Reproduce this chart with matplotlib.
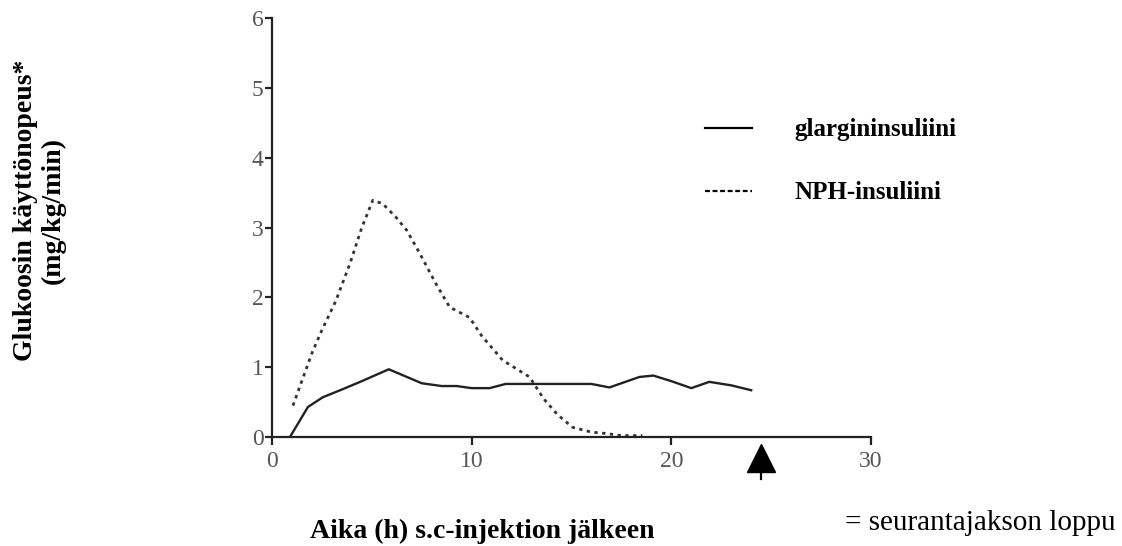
import matplotlib
matplotlib.use("Agg")
import matplotlib.pyplot as plt
from matplotlib.lines import Line2D

# ── Data ────────────────────────────────────────────────────────────────────
glargine_t = [0.9, 1.8, 2.55, 3.5, 4.5, 5.85, 7.5, 8.5, 9.25, 10.0, 10.9, 11.7,
              13.0, 14.5, 16.0, 16.9, 18.4, 19.1, 20.0, 21.0, 21.9, 23.0, 24.0]
glargine_v = [0.0, 0.43, 0.57, 0.68, 0.80, 0.97, 0.77, 0.73, 0.73, 0.70, 0.70, 0.76,
              0.76, 0.76, 0.76, 0.71, 0.86, 0.88, 0.80, 0.70, 0.79, 0.74, 0.67]

nph_t = [1.05, 2.0, 2.5, 3.2, 3.9, 4.5, 5.05, 5.55, 6.2, 6.75, 7.4, 8.2, 8.9,
         9.9, 10.5, 11.55, 12.9, 13.6, 14.3, 15.05, 16.0, 16.75, 17.5, 18.55]
nph_v = [0.45, 1.2, 1.53, 1.95, 2.48, 3.0, 3.39, 3.34, 3.15, 2.96, 2.63, 2.2, 1.86,
         1.71, 1.45, 1.10, 0.86, 0.55, 0.32, 0.14, 0.07, 0.05, 0.02, 0.02]

x_ticks = [0, 10, 20, 30]
y_ticks = [0, 1, 2, 3, 4, 5, 6]
END_OF_FOLLOWUP = 24.5

LABELS = ["glargininsuliini", "NPH-insuliini"]
YLABEL = "Glukoosin käyttönopeus*\n(mg/kg/min)"
XLABEL = "Aika (h) s.c-injektion jälkeen"
NOTE = "= seurantajakson loppu"

plt.rcParams.update({
    "font.family": "Liberation Serif",
})

fig = plt.figure(figsize=(11.22, 5.46), dpi=100)
ax = fig.add_axes([0.2424, 0.1996, 0.5339, 0.7674])

ax.plot(glargine_t, glargine_v, color="#222222", lw=1.7, solid_joinstyle="round")
ax.plot(nph_t, nph_v, color="#333333", lw=2.0, ls=(0, (1.2, 1.6)))

ax.set_xlim(0, 30)
ax.set_ylim(0, 6)
ax.set_xticks(x_ticks)
ax.set_yticks(y_ticks)
for side in ("top", "right"):
    ax.spines[side].set_visible(False)
for side in ("left", "bottom"):
    ax.spines[side].set_linewidth(1.6)
    ax.spines[side].set_color("#222222")
ax.tick_params(axis="y", direction="out", length=5, width=1.6, pad=1,
               labelsize=17, labelcolor="#555555", color="#222222")
ax.tick_params(axis="x", direction="out", length=6, width=1.6, pad=4,
               labelsize=17, labelcolor="#555555", color="#222222")

# end-of-follow-up arrow under the x axis
ax.plot([END_OF_FOLLOWUP, END_OF_FOLLOWUP], [-0.45, -0.6], color="black", lw=1.6,
        clip_on=False)
ax.plot([END_OF_FOLLOWUP], [-0.30], marker="^", markersize=20, color="black",
        clip_on=False)

# legend
handles = [Line2D([], [], color="black", lw=1.6),
           Line2D([], [], color="black", lw=1.6, ls=(0, (2.2, 1.2)))]
fig.legend(handles, LABELS, loc="upper left", bbox_to_anchor=(0.628, 0.783),
           frameon=False, borderpad=0, borderaxespad=0, handlelength=1.9,
           handletextpad=1.7, labelspacing=1.6,
           prop={"family": "Liberation Serif", "weight": "bold", "size": 18})

fig.text(0.035, 0.615, YLABEL, rotation=90, ha="center", va="center",
         multialignment="center", fontsize=20, fontweight="bold", linespacing=1.1)
fig.text(0.43, 0.026, XLABEL, ha="center", va="center", fontsize=20,
         fontweight="bold")
fig.text(0.874, 0.042, NOTE, ha="center", va="center", fontsize=21)

fig.savefig("out.png", dpi=100)
